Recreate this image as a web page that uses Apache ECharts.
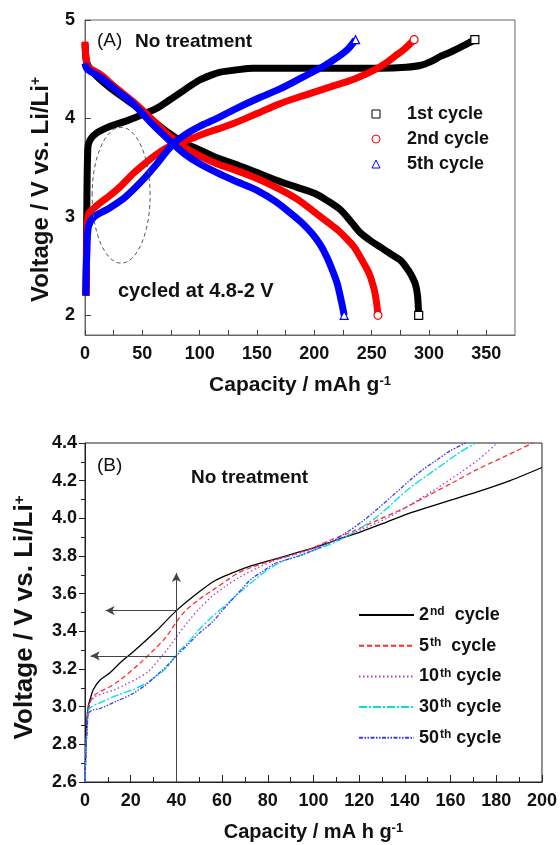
<!DOCTYPE html>
<html>
<head>
<meta charset="utf-8">
<title>Voltage profiles</title>
<script src="https://cdn.jsdelivr.net/npm/echarts@6/dist/echarts.min.js"></script>
<style>
  html, body { margin: 0; padding: 0; background: #fff; }
  #chart { width: 560px; height: 845px; }
</style>
</head>
<body>
<div id="chart"></div>
<script>
// (A) charge / discharge curves, capacity in mAh/g and voltage in V
var capA1c = [1, 1.5, 2.5, 4.4, 10, 22, 35, 48, 62, 74, 88, 100, 110, 118, 130, 147, 170, 210, 258, 280, 293, 302, 310, 318, 325, 332, 340];
var voltA1c = [2.2, 3.0, 3.7, 3.78, 3.85, 3.92, 3.97, 4.03, 4.1, 4.19, 4.3, 4.39, 4.44, 4.47, 4.49, 4.51, 4.51, 4.51, 4.51, 4.52, 4.54, 4.58, 4.63, 4.67, 4.71, 4.75, 4.80];
var capA1d = [0, 1, 3, 10, 22, 35, 48, 60, 71, 85, 100, 115, 130, 150, 170, 185, 200, 212, 223, 232, 240, 250, 258, 267, 275, 280, 284, 288, 290, 291];
var voltA1d = [4.76, 4.6, 4.53, 4.43, 4.31, 4.2, 4.09, 3.97, 3.87, 3.76, 3.68, 3.6, 3.54, 3.45, 3.36, 3.3, 3.24, 3.16, 3.07, 2.95, 2.84, 2.75, 2.69, 2.62, 2.56, 2.49, 2.42, 2.32, 2.2, 2.0];

var capA2c = [1, 1.5, 3, 8, 13, 22, 31, 42, 52, 63, 76, 89, 105, 118, 130, 150, 170, 190, 214, 235, 252, 262, 270, 279, 287];
var voltA2c = [2.2, 2.7, 3.03, 3.09, 3.14, 3.22, 3.31, 3.44, 3.54, 3.64, 3.73, 3.78, 3.85, 3.9, 3.95, 4.05, 4.15, 4.23, 4.32, 4.4, 4.49, 4.56, 4.63, 4.71, 4.80];
var capA2d = [0, 1, 3, 13, 25, 42, 55, 70, 85, 100, 115, 130, 150, 170, 185, 200, 210, 220, 228, 235, 243, 248, 252, 254, 255.5];
var voltA2d = [4.78, 4.6, 4.52, 4.45, 4.33, 4.17, 4.03, 3.86, 3.72, 3.62, 3.54, 3.48, 3.39, 3.28, 3.18, 3.05, 2.96, 2.87, 2.78, 2.69, 2.53, 2.42, 2.27, 2.15, 2.0];

var capA5c = [0.5, 1.5, 3, 8, 20, 35, 50, 62, 76, 88, 100, 115, 130, 150, 170, 190, 208, 220, 229, 236];
var voltA5c = [2.2, 2.6, 2.9, 3.0, 3.08, 3.2, 3.37, 3.53, 3.73, 3.84, 3.92, 4.0, 4.09, 4.2, 4.3, 4.42, 4.53, 4.62, 4.70, 4.80];
var capA5d = [0, 2, 13, 28, 42, 58, 76, 88, 100, 115, 130, 150, 167, 180, 190, 198, 205, 211, 216, 220, 224, 226];
var voltA5d = [4.56, 4.5, 4.42, 4.28, 4.15, 3.95, 3.75, 3.63, 3.54, 3.45, 3.37, 3.27, 3.15, 3.03, 2.93, 2.83, 2.72, 2.59, 2.45, 2.32, 2.12, 2.0];

var namesA = ['1st cycle', '2nd cycle', '5th cycle'];

// (B) charge curves of later cycles
var capB2 = [0, 0.3, 0.7, 1.4, 2.5, 3.6, 6.5, 10.9, 16, 21, 31, 40, 50, 57, 64.5, 72, 79, 85, 92, 99.3, 110, 121, 132, 142.7, 157, 171.7, 186, 200];
var voltB2 = [2.6, 2.75, 2.9, 3.0, 3.05, 3.09, 3.14, 3.18, 3.24, 3.29, 3.4, 3.51, 3.61, 3.67, 3.71, 3.745, 3.77, 3.79, 3.815, 3.84, 3.885, 3.93, 3.98, 4.03, 4.085, 4.14, 4.2, 4.27];
var capB5 = [0, 0.5, 1, 2.2, 4, 6.5, 10, 15.2, 24, 30, 35.5, 40, 44, 50, 56, 62, 67, 73, 79, 89, 98, 106.5, 117, 128, 139, 150, 161, 171.7, 184, 196];
var voltB5 = [2.6, 2.8, 2.92, 3.02, 3.06, 3.08, 3.1, 3.14, 3.23, 3.3, 3.37, 3.45, 3.51, 3.57, 3.62, 3.67, 3.71, 3.74, 3.765, 3.8, 3.835, 3.88, 3.93, 3.99, 4.05, 4.12, 4.19, 4.26, 4.33, 4.40];
var capB10 = [0, 0.5, 1, 1.4, 4, 8, 13, 18, 23, 28, 33, 37, 40, 45, 50, 56, 61.6, 68, 76, 84, 91, 99.3, 110, 121, 132, 142.7, 154, 164.5, 172, 180.4];
var voltB10 = [2.6, 2.8, 2.92, 3.0, 3.05, 3.07, 3.09, 3.12, 3.15, 3.19, 3.26, 3.32, 3.37, 3.45, 3.52, 3.59, 3.64, 3.69, 3.74, 3.78, 3.805, 3.835, 3.885, 3.94, 4.0, 4.075, 4.16, 4.245, 4.31, 4.40];
var capB30 = [0, 0.5, 1, 1.4, 3, 6.5, 14, 21, 26, 31, 36, 40, 45, 50, 55, 61.6, 67, 73, 78, 83, 88, 93.5, 100, 107, 113.8, 121, 128, 135.5, 142, 150, 157, 164, 171];
var voltB30 = [2.6, 2.8, 2.9, 2.98, 3.0, 3.02, 3.06, 3.09, 3.12, 3.16, 3.21, 3.28, 3.34, 3.41, 3.47, 3.54, 3.6, 3.66, 3.71, 3.75, 3.78, 3.8, 3.83, 3.86, 3.9, 3.95, 4.01, 4.09, 4.16, 4.23, 4.29, 4.35, 4.40];
var capB50 = [0, 0.5, 1, 1.4, 3, 6.5, 14, 21, 27, 32.6, 37, 40, 45, 50, 55.8, 60, 64.5, 69, 73, 78, 83, 88, 93.5, 100, 107, 113.8, 121, 128, 135.5, 142, 148, 154, 160, 166.7];
var voltB50 = [2.6, 2.8, 2.88, 2.96, 2.98, 2.99, 3.03, 3.07, 3.12, 3.18, 3.23, 3.27, 3.33, 3.39, 3.45, 3.51, 3.57, 3.63, 3.68, 3.72, 3.76, 3.78, 3.8, 3.83, 3.87, 3.92, 3.98, 4.05, 4.13, 4.2, 4.26, 4.31, 4.36, 4.40];

// cycle numbers of panel (B), shown as "2nd  cycle" etc.
var namesB = ['2nd', '5th', '10th', '30th', '50th'];

// tick labels
var ticksAx = [0, 50, 100, 150, 200, 250, 300, 350];
var ticksAy = [2, 3, 4, 5];

// annotations: dashed ellipse in (A), arrows in (B)
var ellipseA = { cap: 31.5, volt: 3.22, rCap: 25.3, rVolt: 0.69 };
var arrowCap = 40;
var arrowTop = 3.71;
var arrowLevels = [[3.51, 9], [3.27, 2.5]];

var FONT = '"Liberation Sans", Arial, sans-serif';

function pairs(xs, ys) {
    var out = [];
    for (var i = 0; i < xs.length; i++) {
        out.push([xs[i], ys[i]]);
    }
    return out;
}

function curveA(name, color, sym, xs, ys) {
    var last = [xs[xs.length - 1], ys[ys.length - 1]];
    return {
        name: name,
        type: 'line',
        xAxisIndex: 0,
        yAxisIndex: 0,
        data: pairs(xs, ys),
        smooth: 0.3,
        symbol: sym,
        symbolSize: 8,
        showSymbol: false,
        lineStyle: { color: color, width: 7 },
        itemStyle: { color: color, borderColor: color },
        markPoint: {
            symbol: sym,
            symbolSize: 8,
            silent: true,
            label: { show: false },
            itemStyle: { color: '#fff', borderColor: color, borderWidth: 1.2 },
            data: [{ coord: last }]
        }
    };
}

function curveB(name, color, dash, xs, ys) {
    return {
        name: name,
        type: 'line',
        xAxisIndex: 1,
        yAxisIndex: 1,
        data: pairs(xs, ys),
        smooth: 0.3,
        symbol: 'none',
        lineStyle: { color: color, width: 1.3, type: dash },
        itemStyle: { color: color }
    };
}

var seriesB2 = curveB(namesB[0], '#000000', 'solid', capB2, voltB2);
seriesB2.markLine = {
    silent: true,
    symbol: ['none', 'arrow'],
    symbolSize: [7, 9],
    label: { show: false },
    lineStyle: { color: '#444', width: 1, type: 'solid' },
    data: [
        [{ coord: [arrowCap, 2.6] }, { coord: [arrowCap, arrowTop] }],
        [{ coord: [arrowCap, arrowLevels[0][0]] }, { coord: [arrowLevels[0][1], arrowLevels[0][0]] }],
        [{ coord: [arrowCap, arrowLevels[1][0]] }, { coord: [arrowLevels[1][1], arrowLevels[1][0]] }]
    ]
};

var boldLabel = { fontFamily: FONT, fontWeight: 'bold', fontSize: 18, color: '#111' };
var supStyle = { fontFamily: FONT, fontWeight: 'bold', fontSize: 12, color: '#111', verticalAlign: 'top', padding: [0, 0, 0, 1] };

function legendLabelB(name) {
    var m = name.match(/^(\d+)(\w+)$/);
    var gap = m[1].length === 1 ? '  ' : ' ';
    return '{b|' + m[1] + '}{sup|' + m[2] + '}{b|' + gap + 'cycle}';
}

var chart = echarts.init(document.getElementById('chart'));

var option = {
    backgroundColor: '#fff',
    animation: false,
    textStyle: { fontFamily: FONT },
    grid: [
        { left: 85, top: 20, width: 430, height: 315, show: true, borderColor: '#666', borderWidth: 1, backgroundColor: 'transparent' },
        { left: 85, top: 443, width: 462, height: 339, show: true, borderColor: '#222', borderWidth: 1, backgroundColor: 'transparent' }
    ],
    legend: [
        {
            data: namesA,
            orient: 'vertical',
            left: 344,
            top: 100,
            itemWidth: 52,
            itemHeight: 10,
            itemGap: 7,
            selectedMode: false,
            lineStyle: { opacity: 0 },
            itemStyle: { color: '#fff', borderColor: 'inherit', borderWidth: 1 },
            textStyle: { fontFamily: FONT, fontWeight: 'bold', fontSize: 18, color: '#111', lineHeight: 18 }
        },
        {
            data: namesB,
            orient: 'vertical',
            left: 353,
            top: 601,
            itemWidth: 55,
            itemHeight: 10,
            itemGap: 12.7,
            selectedMode: false,
            itemStyle: { opacity: 0 },
            formatter: legendLabelB,
            textStyle: {
                fontFamily: FONT, fontWeight: 'bold', fontSize: 18, color: '#111',
                rich: { b: boldLabel, sup: supStyle }
            }
        }
    ],
    xAxis: [
        {
            type: 'value',
            gridIndex: 0,
            min: 0,
            max: 375,
            splitLine: { show: false },
            axisLine: { lineStyle: { color: '#666', width: 1 } },
            axisTick: { inside: true, length: 5, lineStyle: { color: '#444' },
                customValues: [0, 25, 50, 75, 100, 125, 150, 175, 200, 225, 250, 275, 300, 325, 350] },
            axisLabel: Object.assign({ customValues: ticksAx, margin: 10 }, boldLabel),
            name: 'Capacity / mAh g{sup|-1}',
            nameLocation: 'middle',
            nameGap: 40,
            nameTextStyle: { fontFamily: FONT, fontWeight: 'bold', fontSize: 21, color: '#111',
                rich: { sup: { fontFamily: FONT, fontWeight: 'bold', fontSize: 13, color: '#111', verticalAlign: 'top' } } }
        },
        {
            type: 'value',
            gridIndex: 1,
            min: 0,
            max: 200,
            interval: 20,
            splitLine: { show: false },
            axisLine: { lineStyle: { color: '#222', width: 1 } },
            axisTick: { inside: true, length: 7, lineStyle: { color: '#222' } },
            minorTick: { show: true, splitNumber: 2, length: 5, lineStyle: { color: '#222' } },
            axisLabel: Object.assign({ margin: 10 }, boldLabel),
            name: 'Capacity / mA h g{sup|-1}',
            nameLocation: 'middle',
            nameGap: 40,
            nameTextStyle: { fontFamily: FONT, fontWeight: 'bold', fontSize: 20, color: '#111',
                rich: { sup: { fontFamily: FONT, fontWeight: 'bold', fontSize: 13, color: '#111', verticalAlign: 'top' } } }
        }
    ],
    yAxis: [
        {
            type: 'value',
            gridIndex: 0,
            min: 1.8,
            max: 5,
            splitLine: { show: false },
            axisLine: { lineStyle: { color: '#666', width: 1 } },
            axisTick: { inside: true, length: 6, lineStyle: { color: '#444' }, customValues: ticksAy },
            axisLabel: Object.assign({ customValues: ticksAy, margin: 10 }, boldLabel),
            name: 'Voltage / V vs. Li/Li{sup|+}',
            nameLocation: 'middle',
            nameGap: 32,
            nameTextStyle: { fontFamily: FONT, fontWeight: 'bold', fontSize: 24, color: '#111', padding: [0, 24, 0, 0],
                rich: { sup: { fontFamily: FONT, fontWeight: 'bold', fontSize: 14, color: '#111', verticalAlign: 'top' } } }
        },
        {
            type: 'value',
            gridIndex: 1,
            min: 2.6,
            max: 4.4,
            interval: 0.2,
            splitLine: { show: false },
            axisLine: { lineStyle: { color: '#222', width: 1 } },
            axisTick: { inside: false, length: 6, lineStyle: { color: '#222' } },
            minorTick: { show: true, splitNumber: 2, length: 4, lineStyle: { color: '#222' } },
            axisLabel: Object.assign({ margin: 8, formatter: function (v) { return v.toFixed(1); } }, boldLabel),
            name: 'Voltage / V vs. Li/Li{sup|+}',
            nameLocation: 'middle',
            nameGap: 47,
            nameTextStyle: { fontFamily: FONT, fontWeight: 'bold', fontSize: 26, color: '#111', padding: [0, 10, 0, 0],
                rich: { sup: { fontFamily: FONT, fontWeight: 'bold', fontSize: 15, color: '#111', verticalAlign: 'top' } } }
        }
    ],
    series: [
        curveA(namesA[0], '#000000', 'rect', capA1c, voltA1c),
        curveA(namesA[0], '#000000', 'rect', capA1d, voltA1d),
        curveA(namesA[1], '#ff0000', 'circle', capA2c, voltA2c),
        curveA(namesA[1], '#ff0000', 'circle', capA2d, voltA2d),
        curveA(namesA[2], '#0000ff', 'triangle', capA5c, voltA5c),
        curveA(namesA[2], '#0000ff', 'triangle', capA5d, voltA5d),
        seriesB2,
        curveB(namesB[1], '#ff2a2a', [5, 3], capB5, voltB5),
        curveB(namesB[2], '#b03ad0', [1.5, 2.5], capB10, voltB10),
        curveB(namesB[3], '#00dede', [8, 2, 2, 2], capB30, voltB30),
        curveB(namesB[4], '#3a3aff', [4, 1.5, 1.5, 1.5, 1.5, 1.5], capB50, voltB50)
    ]
};

chart.setOption(option);

// text labels and the dashed ellipse (placed from data coordinates)
var c = chart.convertToPixel({ gridIndex: 0 }, [ellipseA.cap, ellipseA.volt]);
var e = chart.convertToPixel({ gridIndex: 0 }, [ellipseA.cap + ellipseA.rCap, ellipseA.volt + ellipseA.rVolt]);

chart.setOption({
    graphic: [
        { type: 'text', left: 97, top: 31, style: { text: '(A)', font: '19px ' + FONT, fill: '#111' } },
        { type: 'text', left: 135, top: 32, style: { text: 'No treatment', font: 'bold 19px ' + FONT, fill: '#111' } },
        { type: 'text', left: 118, top: 281, style: { text: 'cycled at 4.8-2 V', font: 'bold 20px ' + FONT, fill: '#111' } },
        { type: 'text', left: 97, top: 456, style: { text: '(B)', font: '19px ' + FONT, fill: '#111' } },
        { type: 'text', left: 191, top: 468, style: { text: 'No treatment', font: 'bold 19px ' + FONT, fill: '#111' } },
        {
            type: 'ellipse',
            shape: { cx: c[0], cy: c[1], rx: Math.abs(e[0] - c[0]), ry: Math.abs(c[1] - e[1]) },
            style: { fill: 'none', stroke: '#555', lineWidth: 1, lineDash: [4, 3] },
            z: 5
        }
    ]
});
</script>
</body>
</html>
